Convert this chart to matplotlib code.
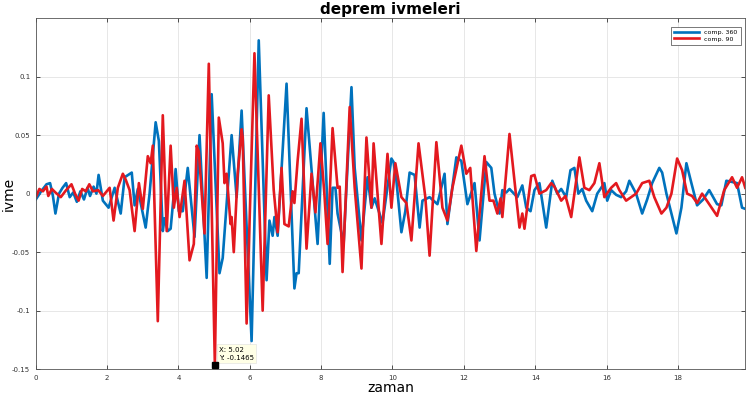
import matplotlib
matplotlib.use("Agg")
from matplotlib import pyplot as plt
from matplotlib.ticker import FixedLocator, FuncFormatter

# comp. 360 (blue) - time [s], acceleration
t_360 = [0.00, 0.15, 0.30, 0.40, 0.48, 0.55, 0.65, 0.75, 0.85, 0.95, 1.05, 1.15, 1.25, 1.35, 1.45,
         1.52, 1.62, 1.70, 1.76, 1.88, 2.04, 2.21, 2.38, 2.49, 2.69, 2.77, 2.86, 3.08, 3.19, 3.36,
         3.45, 3.56, 3.61, 3.70, 3.78, 3.87, 3.92, 4.01, 4.12, 4.26, 4.45, 4.59, 4.79, 4.93, 5.15,
         5.24, 5.49, 5.63, 5.77, 5.85, 6.05, 6.25, 6.47, 6.55, 6.64, 6.69, 6.78, 7.03, 7.25, 7.31,
         7.37, 7.59, 7.90, 8.07, 8.24, 8.32, 8.40, 8.46, 8.63, 8.85, 8.94, 9.13, 9.30, 9.41, 9.50,
         9.72, 9.97, 10.03, 10.11, 10.25, 10.36, 10.48, 10.62, 10.76, 10.84, 11.04, 11.26, 11.46,
         11.54, 11.79, 11.93, 12.10, 12.30, 12.44, 12.63, 12.77, 12.86, 13.00, 13.08, 13.19, 13.28,
         13.50, 13.64, 13.75, 13.87, 13.98, 14.12, 14.31, 14.48, 14.62, 14.73, 14.87, 14.99, 15.10,
         15.21, 15.32, 15.43, 15.60, 15.74, 15.94, 16.02, 16.13, 16.27, 16.41, 16.55, 16.64, 16.83,
         17.00, 17.14, 17.28, 17.48, 17.56, 17.68, 17.96, 18.10, 18.24, 18.38, 18.54, 18.71, 18.88,
         19.10, 19.22, 19.36, 19.52, 19.66, 19.80, 19.89]
a_360 = [-0.005, 0.002, 0.008, 0.009, -0.002, -0.017, 0.000, 0.005, 0.009, -0.003, 0.001, -0.007,
         0.002, -0.005, 0.005, -0.002, 0.006, 0.000, 0.016, -0.006, -0.012, 0.005, -0.017, 0.014,
         0.018, -0.010, 0.004, -0.029, 0.000, 0.061, 0.045, -0.032, -0.021, -0.032, -0.030, 0.000,
         0.021, -0.015, -0.015, 0.022, -0.037, 0.050, -0.072, 0.085, -0.068, -0.055, 0.050, -0.003,
         0.071, 0.014, -0.126, 0.131, -0.074, -0.023, -0.036, -0.020, -0.036, 0.094, -0.081, -0.068,
         -0.068, 0.073, -0.043, 0.069, -0.060, 0.005, 0.005, -0.017, -0.043, 0.091, 0.022, -0.040,
         0.014, -0.012, -0.004, -0.025, 0.030, 0.027, 0.011, -0.033, -0.015, 0.018, 0.016, -0.029,
         -0.006, -0.003, -0.009, 0.017, -0.026, 0.031, 0.028, -0.009, 0.009, -0.040, 0.027, 0.022,
         0.000, -0.017, 0.003, 0.001, 0.004, -0.003, 0.007, -0.012, -0.015, 0.003, 0.009, -0.029,
         0.011, 0.000, 0.004, -0.003, 0.020, 0.022, 0.000, 0.004, -0.006, -0.015, 0.000, 0.009,
         -0.006, 0.003, -0.001, -0.003, 0.002, 0.011, 0.000, -0.017, -0.005, 0.009, 0.022, 0.018,
         0.000, -0.034, -0.012, 0.026, 0.009, -0.010, -0.005, 0.003, -0.009, -0.010, 0.011, 0.010,
         0.009, -0.012, -0.013]

# comp. 90 (red)
t_90 = [0.00, 0.10, 0.20, 0.30, 0.35, 0.45, 0.55, 0.70, 0.85, 1.00, 1.10, 1.20, 1.30, 1.40, 1.50,
        1.60, 1.75, 1.88, 2.07, 2.18, 2.30, 2.44, 2.52, 2.63, 2.77, 2.89, 3.00, 3.14, 3.22, 3.28,
        3.42, 3.56, 3.67, 3.78, 3.87, 3.95, 4.03, 4.17, 4.31, 4.43, 4.51, 4.57, 4.73, 4.85, 5.02,
        5.13, 5.24, 5.29, 5.35, 5.38, 5.46, 5.49, 5.55, 5.66, 5.77, 5.80, 5.91, 6.13, 6.36, 6.53,
        6.67, 6.78, 6.89, 6.97, 7.09, 7.20, 7.25, 7.34, 7.45, 7.59, 7.73, 7.84, 7.98, 8.09, 8.18,
        8.32, 8.46, 8.52, 8.60, 8.80, 8.94, 9.13, 9.27, 9.41, 9.47, 9.69, 9.86, 9.97, 10.08, 10.25,
        10.39, 10.53, 10.73, 10.92, 11.04, 11.23, 11.40, 11.54, 11.68, 11.93, 12.07, 12.18, 12.35,
        12.58, 12.72, 12.83, 12.94, 13.03, 13.08, 13.28, 13.42, 13.56, 13.64, 13.70, 13.89, 13.98,
        14.12, 14.31, 14.45, 14.54, 14.73, 14.85, 15.01, 15.24, 15.38, 15.52, 15.66, 15.80, 15.94,
        16.13, 16.27, 16.36, 16.55, 16.83, 17.00, 17.20, 17.34, 17.54, 17.68, 17.82, 17.98, 18.12,
        18.26, 18.40, 18.54, 18.68, 18.88, 19.10, 19.30, 19.52, 19.66, 19.80, 19.89]
a_90 = [-0.003, 0.004, 0.002, 0.006, -0.002, 0.004, 0.001, -0.003, 0.003, 0.008, 0.000, -0.006,
        0.004, 0.002, 0.008, 0.002, 0.003, -0.002, 0.005, -0.023, 0.005, 0.017, 0.012, 0.003,
        -0.032, 0.009, -0.013, 0.032, 0.026, 0.041, -0.109, 0.067, -0.032, 0.041, -0.012, 0.005,
        -0.020, 0.011, -0.057, -0.043, 0.041, 0.036, -0.034, 0.111, -0.1465, 0.065, 0.043, 0.009,
        0.017, 0.005, -0.026, -0.020, -0.050, 0.017, 0.055, 0.048, -0.111, 0.120, -0.100, 0.084,
        0.003, -0.033, 0.022, -0.026, -0.028, 0.002, -0.008, 0.028, 0.064, -0.047, 0.017, -0.016,
        0.043, 0.000, -0.043, 0.056, 0.005, 0.006, -0.067, 0.074, 0.005, -0.064, 0.048, -0.012,
        0.043, -0.043, 0.034, -0.012, 0.026, -0.003, -0.008, -0.040, 0.043, -0.003, -0.053, 0.044,
        -0.012, -0.023, 0.005, 0.041, 0.017, 0.022, -0.049, 0.032, -0.006, -0.006, -0.017, -0.004,
        -0.020, 0.051, 0.011, -0.029, -0.017, -0.030, 0.015, 0.016, 0.000, 0.003, 0.009, 0.006,
        -0.006, -0.002, -0.020, 0.031, 0.005, 0.003, 0.009, 0.026, -0.003, 0.005, 0.009, 0.003,
        -0.006, 0.000, 0.009, 0.011, -0.003, -0.017, -0.012, 0.000, 0.030, 0.020, 0.000, -0.002,
        -0.008, 0.000, -0.009, -0.019, 0.003, 0.014, 0.005, 0.014, 0.005]

x_ticks = [0, 2, 4, 6, 8, 10, 12, 14, 16, 18]
y_ticks = [-0.15, -0.1, -0.05, 0, 0.05, 0.1]
tip_x, tip_y = 5.02, -0.1465

fig = plt.figure(figsize=(7.46, 4.03), dpi=100)
ax = fig.add_axes([0.048, 0.084, 0.951, 0.871])

ax.plot(t_360, a_360, color='#0072BD', lw=1.9, label='comp. 360')
ax.plot(t_90, a_90, color='#E3191F', lw=1.9, label='comp. 90')

ax.set_xlim(0, 19.89)
ax.set_ylim(-0.15, 0.15)
ax.xaxis.set_major_locator(FixedLocator(x_ticks))
ax.yaxis.set_major_locator(FixedLocator(y_ticks))
ax.yaxis.set_major_formatter(FuncFormatter(lambda v, p: ('%g' % v).replace('\u2212', '-')))
ax.tick_params(direction='in', length=3, width=0.6, labelsize=5, colors='#333333',
               top=True, right=True, pad=4)
ax.grid(True, color='#e3e3e3', lw=0.6)
ax.set_axisbelow(True)
for s in ax.spines.values():
    s.set_color('#555555')
    s.set_linewidth(0.6)

ax.set_title('deprem ivmeleri', fontsize=11, fontweight='bold', pad=3)
ax.set_xlabel('zaman', fontsize=10, labelpad=0)
ax.set_ylabel('ivme', fontsize=10)
ax.yaxis.set_label_coords(-0.028, 0.5)

leg = ax.legend(loc='upper right', fontsize=4.5, handlelength=4, borderpad=0.5,
                labelspacing=0.2, fancybox=False, framealpha=1, edgecolor='#444444',
                bbox_to_anchor=(0.998, 0.985))
leg.get_frame().set_linewidth(0.5)

# data tip
ax.plot([tip_x], [tip_y], marker='s', color='black', ms=4, zorder=5, clip_on=False)
ax.annotate('X: %.2f\nY: %g' % (tip_x, tip_y), xy=(tip_x, tip_y), xytext=(3, 3),
            textcoords='offset points', fontsize=5, va='bottom', ha='left',
            linespacing=1.4,
            bbox=dict(boxstyle='square,pad=0.35', fc='#FFFFE6', ec='#dddddd', lw=0.4))

fig.savefig('out.png', dpi=100)
